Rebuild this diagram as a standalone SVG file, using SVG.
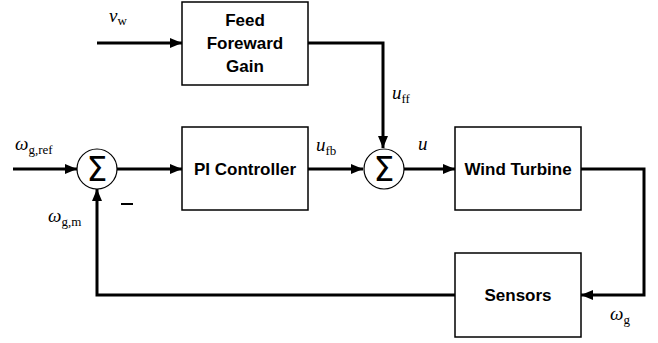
<svg xmlns="http://www.w3.org/2000/svg" width="658" height="343" viewBox="0 0 658 343">
<defs>
<marker id="ah" markerWidth="12" markerHeight="10" refX="12" refY="5" orient="auto" markerUnits="userSpaceOnUse">
<path d="M0,0 L12,5 L0,10 Z" fill="#000"/>
</marker>
<style>
.box{fill:#fff;stroke:#000;stroke-width:1.5}
.lbl{font-family:"Liberation Sans",Arial,sans-serif;font-weight:bold;font-size:17px;text-anchor:middle;fill:#000}
.sum{fill:#fff;stroke:#000;stroke-width:1.2}
.sig{font-family:"DejaVu Sans",sans-serif;font-size:33px;text-anchor:middle;fill:#000}
.wire{fill:none;stroke:#000;stroke-width:3}
.m{font-family:"Liberation Serif","Times New Roman",serif;font-style:italic;font-size:19px;fill:#000}
.sub{font-style:normal;font-size:13px}
</style>
</defs>
<g id="connectors">
<path class="wire" d="M97,43 H182" marker-end="url(#ah)"/>
<path class="wire" d="M308,43 H383 V148" marker-end="url(#ah)"/>
<path class="wire" d="M13,169 H77" marker-end="url(#ah)"/>
<path class="wire" d="M117,169 H182" marker-end="url(#ah)"/>
<path class="wire" d="M308,169 H363" marker-end="url(#ah)"/>
<path class="wire" d="M404,169 H455" marker-end="url(#ah)"/>
<path class="wire" d="M581,169 H644 V295 H581" marker-end="url(#ah)"/>
<path class="wire" d="M455,295 H97 V189" marker-end="url(#ah)"/>
</g>
<g id="ff">
<rect class="box" x="182" y="2" width="126" height="83"/>
<text class="lbl" x="245" y="26">Feed</text>
<text class="lbl" x="245" y="49">Foreward</text>
<text class="lbl" x="245" y="72">Gain</text>
</g>
<g id="pi">
<rect class="box" x="182" y="127" width="126" height="83"/>
<text class="lbl" x="245" y="175">PI Controller</text>
</g>
<g id="wt">
<rect class="box" x="455" y="127" width="126" height="83"/>
<text class="lbl" x="518" y="175">Wind Turbine</text>
</g>
<g id="sensors">
<rect class="box" x="455" y="253" width="126" height="84"/>
<text class="lbl" x="518" y="301">Sensors</text>
</g>
<g id="sum1">
<circle class="sum" cx="97" cy="169" r="20"/>
<text class="sig" x="97" y="181">Σ</text>
</g>
<g id="sum2">
<circle class="sum" cx="384" cy="169" r="20"/>
<text class="sig" x="384" y="181">Σ</text>
</g>
<g id="labels">
<text class="m" x="109" y="22">v<tspan class="sub" font-style="italic" dy="3">w</tspan></text>
<text class="m" x="392" y="99">u<tspan class="sub" dy="4">ff</tspan></text>
<text class="m" x="15" y="150">ω<tspan class="sub" dy="4">g,ref</tspan></text>
<text class="m" x="316" y="151">u<tspan class="sub" dy="4">fb</tspan></text>
<text class="m" x="418" y="150">u</text>
<text class="m" x="48" y="222">ω<tspan class="sub" dy="4">g,m</tspan></text>
<text class="m" x="610" y="320">ω<tspan class="sub" dy="4">g</tspan></text>
<path d="M121,204 H133" stroke="#000" stroke-width="2"/>
</g>
</svg>
